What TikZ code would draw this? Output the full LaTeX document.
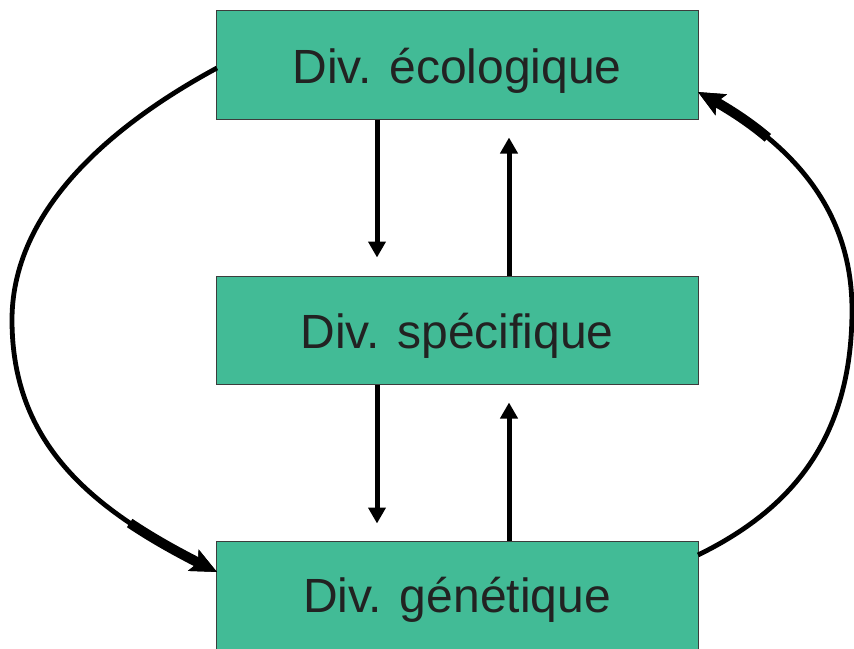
\documentclass[tikz,border=0pt]{standalone}
\usepackage{fontspec}
\setmainfont{Liberation Sans}
\usetikzlibrary{arrows.meta,bending}
\definecolor{boxgreen}{RGB}{66,187,150}
\definecolor{boxline}{RGB}{60,60,60}
\definecolor{txt}{RGB}{34,34,34}
\begin{document}
\begin{tikzpicture}[x=1pt,y=-1pt,
  divbox/.style={draw=boxline,line width=1pt,fill=boxgreen,minimum width=482pt,
    inner sep=0pt,text=txt,text height=37pt,text depth=0pt,font=\fontsize{48}{50}\selectfont},
  varrow/.style={line width=5pt,-{Triangle[length=16pt,width=17pt]}},
  carrow/.style={line width=4.8pt,-{Stealth[length=26pt,width=23pt,inset=5pt]}},
  ctail/.style={line width=10pt,-{Stealth[length=26pt,width=23pt,inset=5pt]}}]
\useasboundingbox (0,0) rectangle (854,648);
\node[divbox,minimum height=109pt] (eco) at (457,64.5) {Div. écologique};
\node[divbox,minimum height=108pt] (spe) at (457,330) {Div. spécifique};
\node[divbox,minimum height=118pt,text height=24pt] (gen) at (457,600) {Div. génétique};
\coordinate (cl) at (377,0);
\coordinate (cr) at (509,0);
\draw[varrow,shorten >=18pt] (eco.south -| cl) -- (spe.north -| cl);
\draw[varrow,shorten >=18pt] (spe.north -| cr) -- (eco.south -| cr);
\draw[varrow,shorten >=17pt] (spe.south -| cl) -- (gen.north -| cl);
\draw[varrow,shorten >=18pt] (gen.north -| cr) -- (spe.south -| cr);
% left loop: ecologique -> genetique
\coordinate (eL) at (217,68);
\coordinate (mL) at (12,320);
\coordinate (tL) at (129.7,523.0);
\coordinate (gL) at (217,572);
\draw[carrow] (eL) .. controls (130,115) and (12,200) .. (mL)
  .. controls (12,450) and (100,515) .. (gL);
\draw[ctail] (tL) .. controls (155.9,540.6) and (185.4,556.6) .. (gL);
% right loop: genetique -> ecologique
\coordinate (gR) at (698,555);
\coordinate (mR) at (852,310);
\coordinate (tR) at (767.8,137.8);
\coordinate (eR) at (698,92);
\draw[carrow] (gR) .. controls (790,510) and (852,440) .. (mR)
  .. controls (852,200) and (780,135) .. (eR);
\draw[ctail] (tR) .. controls (746.7,119.8) and (722.6,104.9) .. (eR);
\end{tikzpicture}
\end{document}
